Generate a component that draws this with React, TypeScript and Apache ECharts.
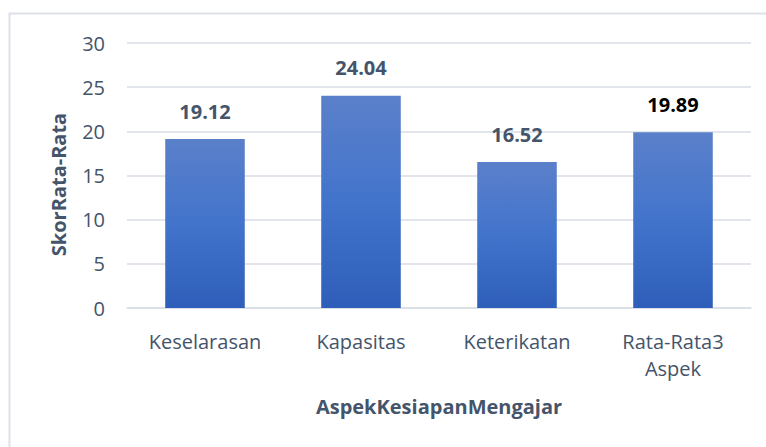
import React, { useEffect, useRef } from "react";
import * as echarts from "echarts";

const categories = ["Keselarasan", "Kapasitas", "Keterikatan", "Rata-Rata3\nAspek"];
const values = [19.12, 24.04, 16.52, 19.89];
const labelColors = ["#44546a", "#44546a", "#44546a", "#000000"];
const yTitle = "SkorRata-Rata";
const xTitle = "AspekKesiapanMengajar";

const FONT = "Open Sans";
const TEXT = "#44546a";

export default function App() {
  const ref = useRef<HTMLDivElement>(null);
  useEffect(() => {
    if (!ref.current) return;
    const chart = echarts.init(ref.current, null, { renderer: "svg" });
    const grad = new echarts.graphic.LinearGradient(0, 0, 0, 1, [
      { offset: 0, color: "#5b80ca" },
      { offset: 0.5, color: "#4274cc" },
      { offset: 1, color: "#2e5eb9" },
    ]);
    chart.setOption({
      animation: false,
      backgroundColor: "#ffffff",
      textStyle: { fontFamily: FONT },
      graphic: [
        {
          type: "rect",
          shape: { x: 9.5, y: 13.5, width: 800, height: 500 },
          style: { fill: "none", stroke: "#dde2ea", lineWidth: 2 },
          silent: true,
        },
      ],
      grid: { left: 127, right: 15, top: 43, bottom: 139, containLabel: false },
      xAxis: {
        type: "category",
        data: categories,
        axisLine: { show: true, lineStyle: { color: "#d9dee6", width: 1.5 } },
        axisTick: { show: false },
        axisLabel: {
          color: TEXT,
          fontSize: 20,
          fontFamily: FONT,
          margin: 20,
          lineHeight: 27,
          interval: 0,
        },
        name: xTitle,
        nameLocation: "middle",
        nameGap: 88,
        nameTextStyle: {
          color: TEXT,
          fontSize: 20,
          fontWeight: "bold",
          fontFamily: FONT,
        },
      },
      yAxis: {
        type: "value",
        min: 0,
        max: 30,
        interval: 5,
        axisLine: { show: false },
        axisTick: { show: false },
        splitLine: { lineStyle: { color: "#d9dee6", width: 1.5 } },
        axisLabel: { color: TEXT, fontSize: 20, fontFamily: FONT, margin: 22 },
        name: yTitle,
        nameLocation: "middle",
        nameGap: 59,
        nameRotate: 90,
        nameTextStyle: {
          color: TEXT,
          fontSize: 20,
          fontWeight: "bold",
          fontFamily: FONT,
          padding: [0, 18, 0, 0],
        },
      },
      series: [
        {
          type: "bar",
          barWidth: "51%",
          data: values.map((v, i) => ({
            value: v,
            label: { color: labelColors[i] },
          })),
          itemStyle: { color: grad },
          label: {
            show: true,
            position: "top",
            distance: 18,
            fontSize: 20,
            fontWeight: "bold",
            fontFamily: FONT,
            formatter: (p: any) => p.value.toFixed(2),
          },
        },
      ],
    });
    return () => chart.dispose();
  }, []);
  return (
    <div
      ref={ref}
      style={{ position: "fixed", left: 0, top: 0, width: 766, height: 447 }}
    />
  );
}
